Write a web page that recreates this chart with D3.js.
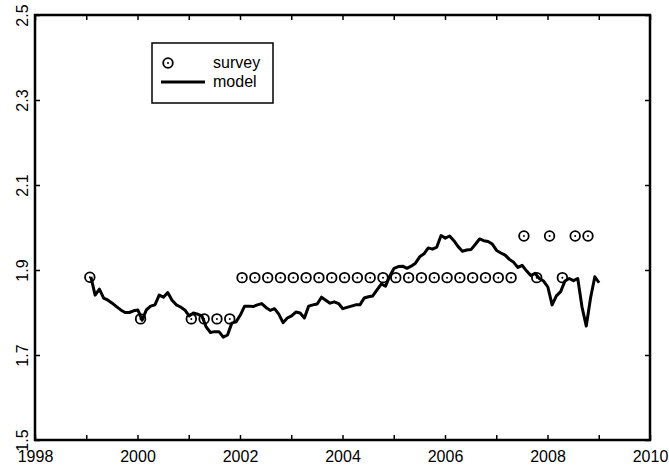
<html>
<head>
<style>
  body { margin: 0; background: #fff; }
  text { font-family: "Liberation Sans", Arial, Helvetica, sans-serif; }
</style>
</head>
<body>
  <script src="https://d3js.org/d3.v7.min.js"></script>
  <div id="chart"></div>
  <script>
    // survey points (year fraction, value)
    const surveyDates = [1999.07, 2000.06, 2001.05, 2001.30, 2001.55, 2001.80,
      2002.04, 2002.29, 2002.54, 2002.79, 2003.04, 2003.29, 2003.54, 2003.79,
      2004.04, 2004.29, 2004.54, 2004.79, 2005.04, 2005.29, 2005.54, 2005.79,
      2006.04, 2006.29, 2006.54, 2006.79, 2007.04, 2007.29,
      2007.54, 2007.79, 2008.04, 2008.29, 2008.54, 2008.79];
    const surveyValues = [1.883, 1.785, 1.785, 1.785, 1.785, 1.785,
      1.882, 1.882, 1.882, 1.882, 1.882, 1.882, 1.882, 1.882,
      1.882, 1.882, 1.882, 1.882, 1.882, 1.882, 1.882, 1.882,
      1.882, 1.882, 1.882, 1.882, 1.882, 1.882,
      1.98, 1.882, 1.98, 1.882, 1.98, 1.98];

    // model, monthly from modelStart
    const modelStart = 1999.09;
    const modelValues = [
      1.884, 1.841, 1.855, 1.834, 1.829, 1.822, 1.814, 1.806, 1.800, 1.800,
      1.804, 1.806, 1.782, 1.806, 1.815, 1.818, 1.841, 1.836, 1.847, 1.829,
      1.818, 1.813, 1.806, 1.792, 1.799, 1.796, 1.792, 1.766, 1.753, 1.755,
      1.755, 1.742, 1.747, 1.775, 1.778, 1.794, 1.815, 1.815, 1.814, 1.818,
      1.821, 1.812, 1.805, 1.809, 1.796, 1.776, 1.787, 1.792, 1.801, 1.799,
      1.787, 1.815, 1.818, 1.820, 1.836, 1.829, 1.822, 1.825, 1.821, 1.809,
      1.812, 1.815, 1.818, 1.818, 1.834, 1.837, 1.839, 1.853, 1.867, 1.862,
      1.886, 1.904, 1.908, 1.909, 1.904, 1.909, 1.916, 1.931, 1.938, 1.952,
      1.949, 1.954, 1.981, 1.975, 1.980, 1.969, 1.955, 1.944, 1.947, 1.948,
      1.960, 1.973, 1.969, 1.967, 1.961, 1.946, 1.940, 1.935, 1.925, 1.918,
      1.906, 1.911, 1.898, 1.887, 1.892, 1.880, 1.874, 1.860, 1.818, 1.839,
      1.849, 1.874, 1.880, 1.875, 1.880, 1.813, 1.768, 1.834, 1.884, 1.870];

    const xTicks = d3.range(1998, 2011);
    const yTicks = [1.5, 1.7, 1.9, 2.1, 2.3, 2.5];
    const seriesNames = ["survey", "model"];

    const width = 669, height = 469;
    const mLeft = 35, mRight = 650, mTop = 15, mBottom = 440;

    const svg = d3.select("#chart").append("svg")
      .attr("width", width)
      .attr("height", height);

    const x = d3.scaleLinear().domain([1998, 2010]).range([mLeft, mRight]);
    const y = d3.scaleLinear().domain([1.5, 2.5]).range([mBottom, mTop]);

    // axes, ticks pointing inward
    const gx = svg.append("g")
      .attr("transform", `translate(0,${mBottom})`)
      .call(d3.axisBottom(x).tickValues(xTicks).tickSizeInner(-5).tickSizeOuter(0).tickPadding(11)
        .tickFormat(d => d % 2 === 0 ? d : ""));
    svg.append("g")
      .attr("transform", `translate(0,${mTop})`)
      .call(d3.axisTop(x).tickValues(xTicks).tickSizeInner(-5).tickSizeOuter(0).tickFormat(""));
    const gy = svg.append("g")
      .attr("transform", `translate(${mLeft},0)`)
      .call(d3.axisLeft(y).tickValues(yTicks).tickSizeInner(-5).tickSizeOuter(0).tickFormat(d3.format(".1f")));
    svg.append("g")
      .attr("transform", `translate(${mRight},0)`)
      .call(d3.axisRight(y).tickValues(yTicks).tickSizeInner(-5).tickSizeOuter(0).tickFormat(""));

    svg.selectAll(".domain").remove();
    svg.selectAll(".tick line").attr("stroke", "#000").attr("stroke-width", 1.5);

    gx.selectAll("text")
      .attr("fill", "#000")
      .style("font-size", "16px")
      .attr("dy", "0.71em");
    gy.selectAll("text")
      .attr("fill", "#000")
      .style("font-size", "16px")
      .attr("x", 0).attr("dy", 0)
      .attr("text-anchor", "middle")
      .attr("transform", "translate(-7,0) rotate(-90)");

    // frame
    svg.append("rect")
      .attr("x", mLeft).attr("y", mTop)
      .attr("width", mRight - mLeft).attr("height", mBottom - mTop)
      .attr("fill", "none").attr("stroke", "#000").attr("stroke-width", 2.5);

    // model line
    const line = d3.line()
      .x((d, i) => x(modelStart + i / 12))
      .y(d => y(d));
    svg.append("path")
      .datum(modelValues)
      .attr("d", line)
      .attr("fill", "none")
      .attr("stroke", "#000")
      .attr("stroke-width", 3)
      .attr("stroke-linejoin", "round");

    // survey markers
    function marker(g, cx, cy) {
      g.append("circle").attr("cx", cx).attr("cy", cy).attr("r", 4.8)
        .attr("fill", "none").attr("stroke", "#000").attr("stroke-width", 1.8);
      g.append("circle").attr("cx", cx).attr("cy", cy).attr("r", 1).attr("fill", "#000");
    }
    const gs = svg.append("g");
    surveyDates.forEach((d, i) => marker(gs, x(d), y(surveyValues[i])));

    // legend
    const lg = svg.append("g");
    lg.append("rect")
      .attr("x", 152).attr("y", 43).attr("width", 121).attr("height", 60)
      .attr("fill", "#fff").attr("stroke", "#000").attr("stroke-width", 1.5);
    marker(lg, 168, 63);
    lg.append("line")
      .attr("x1", 161).attr("x2", 205).attr("y1", 82).attr("y2", 82)
      .attr("stroke", "#000").attr("stroke-width", 3);
    lg.selectAll(".ltxt").data(seriesNames).enter().append("text")
      .attr("x", 213).attr("y", (d, i) => 68 + i * 19)
      .style("font-size", "16px")
      .text(d => d);
  </script>
</body>
</html>
